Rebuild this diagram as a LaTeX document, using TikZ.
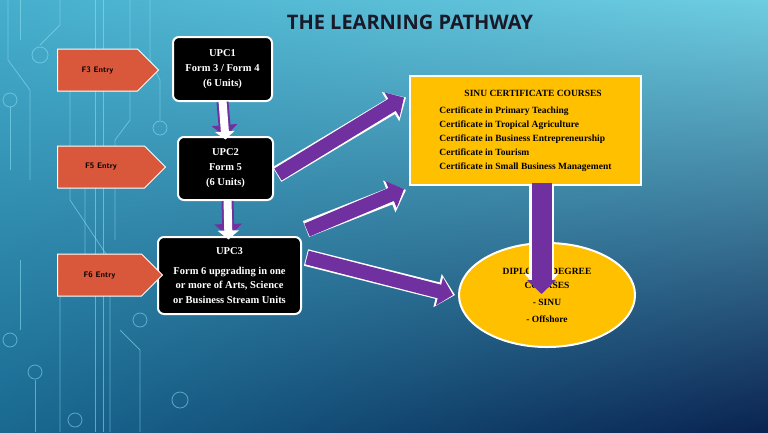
\documentclass[tikz,border=0pt]{standalone}
\usepackage{fontspec}
\setmainfont{Liberation Serif}
\newfontfamily\titlefont{Open Sans}
\usetikzlibrary{shapes.arrows,shapes.geometric,arrows.meta,shadings}
\definecolor{entryred}{HTML}{D9573B}
\definecolor{gold}{HTML}{FFC000}
\definecolor{purp}{HTML}{7030A0}
\definecolor{circ}{HTML}{8FE3F5}
\definecolor{bgul}{RGB}{70,175,205}
\definecolor{bgur}{RGB}{110,205,225}
\definecolor{bgll}{RGB}{25,105,145}
\definecolor{bglr}{RGB}{10,35,80}
\definecolor{titlec}{RGB}{25,25,40}
\begin{document}
\begin{tikzpicture}[x=1pt,y=-1pt,
  upc/.style={draw=white,line width=2pt,fill=black,rounded corners=6pt,text=white,font=\bfseries\fontsize{10.5}{15}\selectfont,align=center,inner sep=0pt},
  entry/.style={single arrow,draw=white,line width=1pt,fill=entryred,minimum width=42pt,single arrow head extend=0pt,inner sep=2pt,font=\sffamily\bfseries\fontsize{8}{9}\selectfont,text=black,align=center,single arrow tip angle=90},
  ]
\useasboundingbox (0,0) rectangle (768,432);
\shade[upper left=bgul,upper right=bgur,lower left=bgll,lower right=bglr] (0,0) rectangle (768,432);
% circuit decoration
\begin{scope}[draw=circ,line width=0.8pt,opacity=0.55]
\draw (8,0) -- (8,60) -- (30,90) -- (30,180);
\draw (20,0) -- (20,40);
\draw (95,0) -- (95,432); \draw (103,0) -- (103,432);
\draw (60,0) -- (60,25) -- (40,45); \draw (40,55) circle (8);
\draw (70,90) -- (70,200) -- (110,260) -- (110,432);
\draw (85,150) -- (85,260) -- (60,290) -- (60,432);
\draw (130,0) -- (130,120) -- (115,140) -- (115,240);
\draw (150,0) -- (150,60) -- (160,80) -- (160,120); \draw (160,128) circle (7);
\draw (120,330) -- (140,350) -- (140,432); \draw (140,320) circle (7);
\draw (20,260) -- (20,330); \draw (10,340) circle (7);
\draw (35,380) -- (35,432); \draw (35,372) circle (7);
\draw (10,100) circle (7); \draw (10,107) -- (10,170);
\draw (75,420) circle (7);
\draw (180,400) circle (8);
\end{scope}
\node[font=\titlefont\bfseries\fontsize{20}{22}\selectfont,text=titlec] (title) at (410,22) {THE LEARNING PATHWAY};
% UPC boxes
\node[upc,minimum width=99pt,minimum height=64pt] (u1) at (222.5,69) {UPC1\\Form 3 / Form 4\\(6 Units)};
\node[upc,minimum width=95pt,minimum height=63pt] (u2) at (225.5,168.5) {UPC2\\Form 5\\(6 Units)};
\node[upc,minimum width=143pt,minimum height=77pt,font=\bfseries\fontsize{10.5}{14.5}\selectfont] (u3) at (229.5,275.5) {UPC3\\[5pt]Form 6 upgrading in one\\or more of Arts, Science\\or Business Stream Units};
% entries
\node[entry,minimum height=101pt,text width=60pt] (e3) at (97.5,70) {F3 Entry};
\node[entry,minimum height=108pt,text width=66pt] (e5) at (101,167) {F5 Entry};
\node[entry,minimum height=105pt,text width=62pt] (e6) at (99.5,275) {F6 Entry};
% SINU box
\node[draw=white,line width=2pt,fill=gold,minimum width=231pt,minimum height=109pt,align=left,inner sep=0pt,font=\bfseries\fontsize{9.5}{14}\selectfont] (sinu) at (525.5,130.5) {\hspace*{25pt}SINU CERTIFICATE COURSES\\[3pt]Certificate in Primary Teaching\\Certificate in Tropical Agriculture\\Certificate in Business Entrepreneurship\\Certificate in Tourism\\Certificate in Small Business Management};
\node[ellipse,draw=white,line width=2pt,fill=gold,minimum width=176pt,minimum height=104pt,align=center,inner sep=0pt,font=\bfseries\fontsize{9.5}{14}\selectfont] (dip) at (547,295) {DIPLOMA/DEGREE\\COURSES\\[3pt]- SINU\\[3pt]- Offshore};
% down arrows (white with purple edge)
\draw[purp,line width=12pt,-{Triangle[width=25pt,length=12pt]}] (u1.south) -- ([yshift=-1pt]u2.north);
\draw[white,line width=8pt,-{Triangle[width=19pt,length=8pt]}] ([yshift=1.5pt]u1.south) -- ([yshift=-3.5pt]u2.north);
\draw[purp,line width=12pt,-{Triangle[width=27pt,length=13pt]}] ([xshift=2pt]u2.south) -- ([xshift=-1pt,yshift=-1pt]u3.north);
\draw[white,line width=8pt,-{Triangle[width=21pt,length=9pt]}] ([xshift=2pt,yshift=1.5pt]u2.south) -- ([xshift=-1pt,yshift=-3.5pt]u3.north);
% purple arrows with white edge
\draw[white,line width=17pt,-{Triangle[width=33pt,length=18pt]}] ([xshift=3pt,yshift=-6pt]u2.east) -- ([yshift=33pt,xshift=-3pt]sinu.west);
\draw[purp,line width=14pt,-{Triangle[width=28pt,length=14pt]}] ([xshift=4pt,yshift=-6pt]u2.east) -- ([yshift=33pt,xshift=-5pt]sinu.west);
\draw[white,line width=17pt,-{Triangle[width=33pt,length=18pt]}] ([xshift=4pt,yshift=7pt]u3.north east) -- ([xshift=-3pt,yshift=-4pt]sinu.south west);
\draw[purp,line width=14pt,-{Triangle[width=28pt,length=14pt]}] ([xshift=5pt,yshift=6pt]u3.north east) -- ([xshift=-5pt,yshift=-3pt]sinu.south west);
\draw[white,line width=17pt,-{Triangle[width=33pt,length=18pt]}] ([xshift=4pt,yshift=18pt]u3.east) -- ([xshift=-3pt]dip.west);
\draw[purp,line width=14pt,-{Triangle[width=28pt,length=14pt]}] ([xshift=5pt,yshift=18pt]u3.east) -- ([xshift=-5pt]dip.west);
\draw[white,line width=25pt,-{Triangle[width=33pt,length=18pt]}] ([xshift=16pt,yshift=2pt]sinu.south) -- ([xshift=16pt,yshift=-50pt]sinu.south |- dip.north);
\draw[purp,line width=20pt,-{Triangle[width=28pt,length=14pt]}] ([xshift=16pt,yshift=3pt]sinu.south) -- ([xshift=16pt,yshift=-52pt]sinu.south |- dip.north);
\end{tikzpicture}
\end{document}
